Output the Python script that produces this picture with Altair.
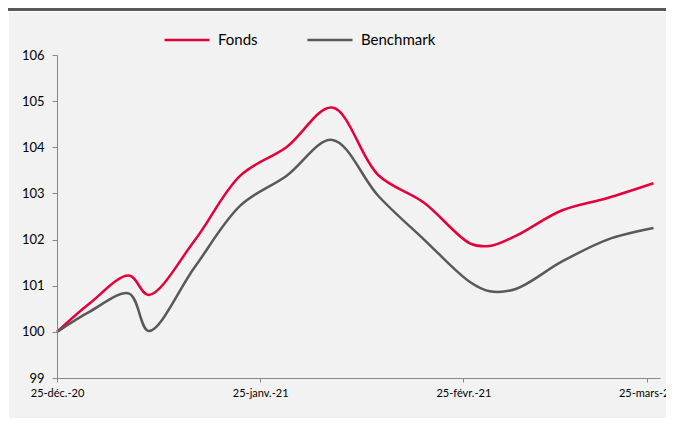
import altair as alt
import pandas as pd

# ---- data ----
dates = ["2020-12-25", "2020-12-30", "2021-01-05", "2021-01-08", "2021-01-15",
         "2021-01-22", "2021-01-29", "2021-02-05", "2021-02-12", "2021-02-19",
         "2021-02-26", "2021-03-01", "2021-03-05", "2021-03-12", "2021-03-19",
         "2021-03-26"]
fonds = [100.00, 100.62, 101.22, 100.80, 101.98, 103.39, 104.00, 104.86, 103.40,
         102.80, 101.92, 101.86, 102.08, 102.63, 102.90, 103.22]
bench = [100.00, 100.44, 100.83, 100.02, 101.40, 102.74, 103.38, 104.16, 102.95,
         102.00, 101.08, 100.88, 100.93, 101.52, 102.00, 102.25]

series_names = ["Fonds", "Benchmark"]
series_colors = ["#E4003A", "#595959"]
tick_dates = [(2020, 12, 25), (2021, 1, 25), (2021, 2, 25), (2021, 3, 25)]
tick_labels = ["25-déc.-20", "25-janv.-21", "25-févr.-21", "25-mars-21"]
y_ticks = [99, 100, 101, 102, 103, 104, 105, 106]

rows = []
for d, f, b in zip(dates, fonds, bench):
    rows.append({"date": d, "series": "Fonds", "value": f})
    rows.append({"date": d, "series": "Benchmark", "value": b})
df = pd.DataFrame(rows)

# label expression built from the tick label list (by month)
label_expr = "''"
for (yy, mm, dd), lab in zip(tick_dates, tick_labels):
    label_expr = f"utcmonth(datum.value) == {mm - 1} ? '{lab}' : ({label_expr})"

W, H = 603, 323
FONT = "Lato"

panel = alt.Chart(alt.Data(values=[{}])).mark_rect(color="#F2F2F2").encode(
    x=alt.value(-48), x2=alt.value(W + 8), y=alt.value(-43), y2=alt.value(H + 40)
)
topbar = alt.Chart(alt.Data(values=[{}])).mark_rect(color="#595959").encode(
    x=alt.value(-49), x2=alt.value(W + 8), y=alt.value(-47), y2=alt.value(-44)
)

lines = alt.Chart(df).mark_line(interpolate="catmull-rom", strokeWidth=2.5).encode(
    x=alt.X(
        "date:T",
        scale=alt.Scale(
            type="utc",
            domain=[alt.DateTime(year=2020, month=12, date=25, utc=True),
                    alt.DateTime(year=2021, month=3, date=27, utc=True)],
        ),
        axis=alt.Axis(
            values=[alt.DateTime(year=y, month=m, date=d, utc=True) for (y, m, d) in tick_dates],
            labelExpr=label_expr,
            title=None,
            grid=False,
            tickSize=4,
            labelPadding=5,
            labelFontSize=11,
            labelFont=FONT,
            labelColor="#000000",
            domainColor="#878787",
            tickColor="#878787",
            labelFlush=False,
            labelOverlap=False,
            zindex=1,
        ),
    ),
    y=alt.Y(
        "value:Q",
        scale=alt.Scale(domain=[99, 106], nice=False, zero=False),
        axis=alt.Axis(
            values=y_ticks,
            title=None,
            grid=False,
            tickSize=5,
            labelPadding=8,
            labelFontSize=13,
            labelFont=FONT,
            labelColor="#000000",
            domainColor="#878787",
            tickColor="#878787",
            zindex=1,
        ),
    ),
    color=alt.Color(
        "series:N",
        scale=alt.Scale(domain=series_names, range=series_colors),
        legend=alt.Legend(
            title=None,
            orient="none",
            direction="horizontal",
            legendX=106,
            legendY=-39,
            symbolType="stroke",
            symbolSize=2025,
            symbolStrokeWidth=2.5,
            labelFontSize=15,
            labelFont=FONT,
            labelColor="#000000",
            labelOffset=7,
            columnPadding=44,
        ),
    ),
    order=alt.Order("series:N", sort="ascending"),
)

chart = alt.layer(topbar, panel, lines).properties(
    width=W,
    height=H,
    background="#FFFFFF",
    padding={"left": 49, "top": 47, "right": 6, "bottom": 40},
    autosize=alt.AutoSizeParams(type="none"),
).configure_view(stroke=None)

chart.save("out.html", embed_options={"renderer": "svg", "actions": False})
